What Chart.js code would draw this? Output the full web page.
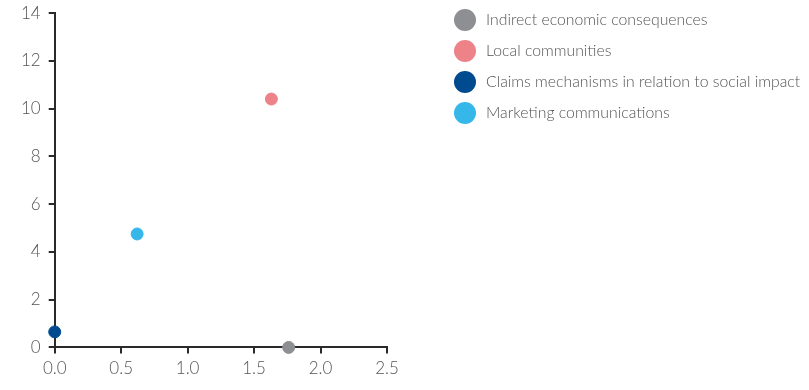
<!DOCTYPE html>
<html>
<head>
<meta charset="utf-8">
<script src="https://cdn.jsdelivr.net/npm/chart.js@4/dist/chart.umd.min.js"></script>
<style>
  html, body { margin: 0; padding: 0; background: #fff; }
  #wrap { position: relative; width: 809px; height: 390px; }
</style>
</head>
<body>
<div id="wrap"><canvas id="chart" width="809" height="390"></canvas></div>
<script>
var seriesNames = ['Indirect economic consequences', 'Local communities',
  'Claims mechanisms in relation to social impact', 'Marketing communications'];
var seriesColors = ['#8e8f93', '#ee8289', '#004a8f', '#35b7ea'];
var xValues = [1.76, 1.63, 0.0, 0.62];
var yValues = [0.0, 10.4, 0.65, 4.75];
var xTicks = [0, 0.5, 1.0, 1.5, 2.0, 2.5];
var yTicks = [0, 2, 4, 6, 8, 10, 12, 14];

var FONT = 'Lato, "Liberation Sans", sans-serif';
var axisColor = '#2a2a2a';

// legend drawn on the right of the canvas
var sideLegend = {
  id: 'sideLegend',
  afterDraw: function (chart) {
    var ctx = chart.ctx;
    ctx.save();
    ctx.font = '300 15.8px ' + FONT;
    ctx.textBaseline = 'middle';
    ctx.textAlign = 'left';
    seriesNames.forEach(function (name, i) {
      var y = 20 + i * 31;
      ctx.beginPath();
      ctx.arc(465, y, 11, 0, Math.PI * 2);
      ctx.fillStyle = seriesColors[i];
      ctx.fill();
      ctx.fillStyle = '#555555';
      ctx.fillText(name, 486, y);
    });
    ctx.restore();
  }
};

var datasets = seriesNames.map(function (name, i) {
  return {
    label: name,
    data: [{ x: xValues[i], y: yValues[i] }],
    backgroundColor: seriesColors[i],
    borderColor: seriesColors[i],
    pointRadius: 6,
    pointHoverRadius: 6,
    clip: false
  };
});

new Chart(document.getElementById('chart').getContext('2d'), {
  type: 'scatter',
  data: { datasets: datasets },
  plugins: [sideLegend],
  options: {
    responsive: false,
    animation: false,
    layout: { padding: { top: 0, left: 13, right: 422, bottom: 7 } },
    plugins: { legend: { display: false }, tooltip: { enabled: false } },
    scales: {
      x: {
        type: 'linear',
        min: 0,
        max: 2.5,
        afterBuildTicks: function (axis) {
          axis.ticks = xTicks.map(function (v) { return { value: v }; });
        },
        ticks: {
          color: '#555555',
          font: { family: FONT, size: 17, weight: '300', lineHeight: 0.8 },
          padding: 8,
          maxRotation: 0,
          callback: function (v) { return Number(v).toFixed(1); }
        },
        grid: { drawOnChartArea: false, drawTicks: true, tickLength: 6, color: axisColor, lineWidth: 2 },
        border: { color: axisColor, width: 2 }
      },
      y: {
        type: 'linear',
        min: 0,
        max: 14,
        afterBuildTicks: function (axis) {
          axis.ticks = yTicks.map(function (v) { return { value: v }; });
        },
        ticks: {
          color: '#555555',
          font: { family: FONT, size: 17, weight: '300', lineHeight: 0.6 },
          padding: 8
        },
        grid: { drawOnChartArea: false, drawTicks: true, tickLength: 6, color: axisColor, lineWidth: 2 },
        border: { color: axisColor, width: 2 }
      }
    }
  }
});
</script>
</body>
</html>
